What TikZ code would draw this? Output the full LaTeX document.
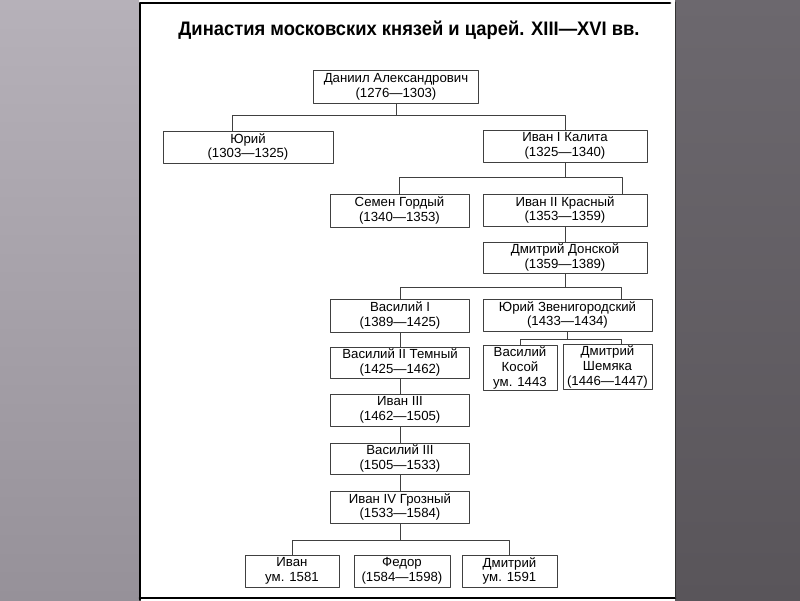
\documentclass[tikz,border=0pt]{standalone}
\usepackage{fontspec}
\setmainfont{Liberation Sans}
\newfontfamily\titlefont[FakeStretch=0.94]{Liberation Sans}
\usetikzlibrary{calc}

\tikzset{
  person/.style={draw=black!75, line width=0.6pt, fill=white, align=center,
    inner sep=1pt, font=\fontsize{9.4}{10.6}\selectfont, minimum height=8mm},
  link/.style={draw=black!75, line width=0.6pt},
}

\begin{document}
\begin{tikzpicture}[x=0.25mm, y=-0.25mm, line cap=round, line join=round]
  % backdrop and sheet
  \useasboundingbox (0,0) rectangle (800,600);
  \shade[top color={rgb,255:red,182;green,177;blue,185}, bottom color={rgb,255:red,150;green,145;blue,153}] (0,0) rectangle (139,600);
  \shade[top color={rgb,255:red,108;green,104;blue,110}, bottom color={rgb,255:red,89;green,85;blue,90}] (675,0) rectangle (800,600);
  \fill[white] (139,2) rectangle (675,598);
  \draw[line width=2pt] (140,600) -- (140,3) -- (670,3);
  \draw[line width=2pt] (140,598) -- (675,598);
  \draw[line width=0.6pt, black!80] (675,2) -- (675,598);

  % title
  \node[anchor=base, font=\titlefont\fontsize{13.9}{16}\selectfont\bfseries] (title) at (409,35)
    {Династия московских князей и царей. XIII—XVI вв.};

  % rulers
  \node[person, minimum width=41.25mm, minimum height=8.25mm] (daniil) at (396,86.5) {Даниил Александрович\\(1276—1303)};
  \node[person, minimum width=42.5mm] (yuri) at (248,147) {Юрий\\(1303—1325)};
  \node[person, minimum width=41mm] (kalita) at (565,146) {Иван I Калита\\(1325—1340)};
  \node[person, minimum width=34.75mm, minimum height=8.25mm] (semen) at (399.5,210.5) {Семен Гордый\\(1340—1353)};
  \node[person, minimum width=41mm] (ivanII) at (565,210) {Иван II Красный\\(1353—1359)};
  \node[person, minimum width=41mm, minimum height=7.75mm] (donskoy) at (565,257.5) {Дмитрий Донской\\(1359—1389)};
  \node[person, minimum width=34.75mm, minimum height=8.25mm] (vasilyI) at (400,315.5) {Василий I\\(1389—1425)};
  \node[person, minimum width=42.25mm] (yuriZ) at (567.5,315) {Юрий Звенигородский\\(1433—1434)};
  \node[person, minimum width=18.5mm, minimum height=11mm] (kosoy) at (520,368) {Василий\\Косой\\ум. 1443};
  \node[person, minimum width=22.25mm, minimum height=10.5mm] (shemyaka) at (607.5,367) {Дмитрий\\Шемяка\\(1446—1447)};
  \node[person, minimum width=34.75mm, minimum height=7.75mm] (temny) at (400,362.5) {Василий II Темный\\(1425—1462)};
  \node[person, minimum width=34.75mm] (ivanIII) at (400,410) {Иван III\\(1462—1505)};
  \node[person, minimum width=34.75mm, minimum height=7.75mm] (vasilyIII) at (400,458.5) {Василий III\\(1505—1533)};
  \node[person, minimum width=34.75mm] (groznyj) at (400,507) {Иван IV Грозный\\(1533—1584)};
  \node[person, minimum width=23.5mm] (ivan) at (292,571) {Иван\\ум. 1581};
  \node[person, minimum width=24mm] (fedor) at (402,571) {Федор\\(1584—1598)};
  \node[person, minimum width=23.75mm] (dmitry) at (509.5,571) {Дмитрий\\ум. 1591};

  % family lines
  \draw[link] (daniil.south) -- ++(0,12) -| ($(yuri.north west)!.41!(yuri.north east)$);
  \draw[link] (daniil.south) -- ++(0,12) -| (kalita.north);
  \draw[link] (kalita.south) -- ++(0,15) -| (semen.north);
  \draw[link] (kalita.south) -- ++(0,15) -| ($(ivanII.north west)!.85!(ivanII.north east)$);
  \draw[link] (ivanII.south) -- (donskoy.north);
  \draw[link] (donskoy.south) -- ++(0,14) -| (vasilyI.north);
  \draw[link] (donskoy.south) -- ++(0,14) -| ($(yuriZ.north west)!.82!(yuriZ.north east)$);
  \draw[link] (yuriZ.south) -- ++(0,8) -| (kosoy.north);
  \draw[link] (yuriZ.south) -- ++(0,8) -| ($(shemyaka.north west)!.65!(shemyaka.north east)$);
  \draw[link] (vasilyI.south) -- (temny.north);
  \draw[link] (temny.south) -- (ivanIII.north);
  \draw[link] (ivanIII.south) -- (vasilyIII.north);
  \draw[link] (vasilyIII.south) -- (groznyj.north);
  \draw[link] (groznyj.south) -- ++(0,17) -| (ivan.north);
  \draw[link] (groznyj.south) -- ++(0,17) -| (dmitry.north);
\end{tikzpicture}
\end{document}
